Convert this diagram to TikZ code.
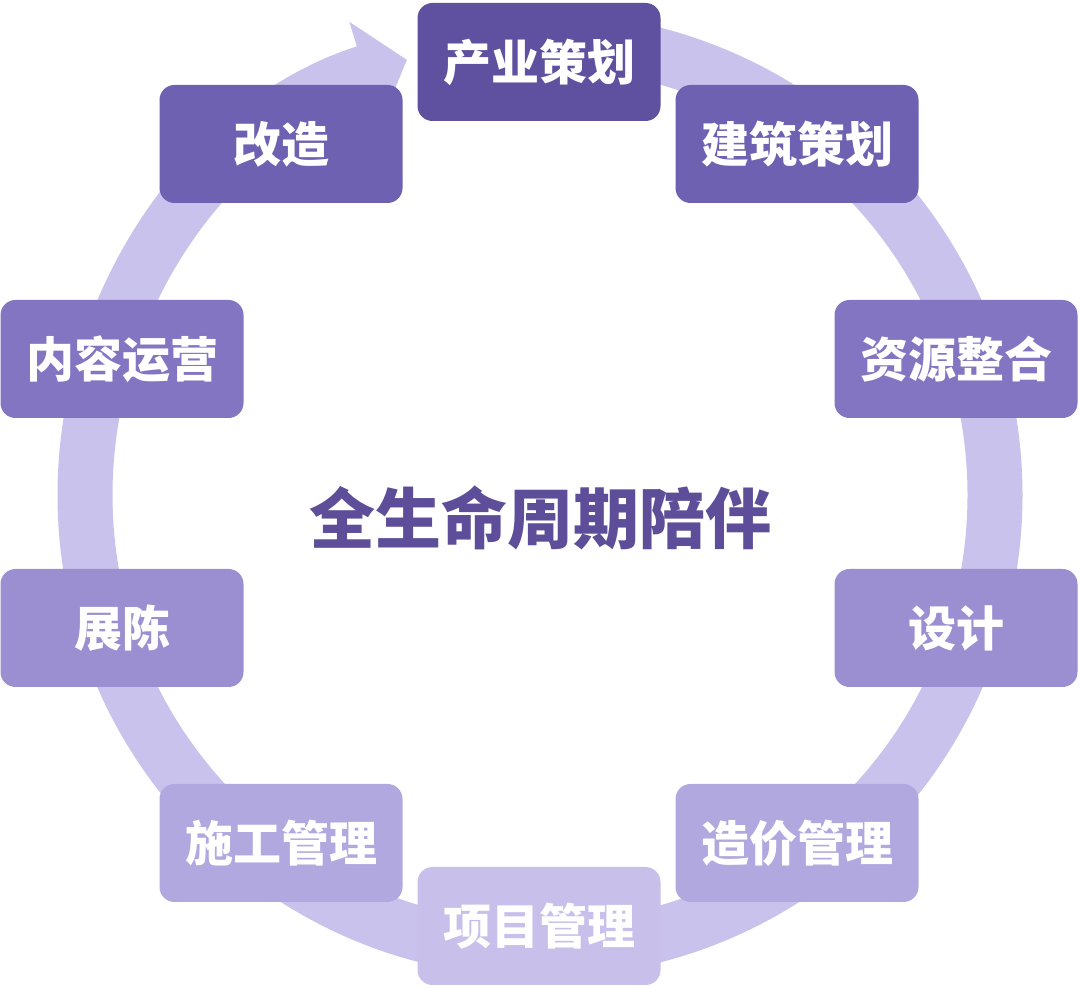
\documentclass[tikz,border=0pt]{standalone}
\usepackage{fontspec}
\usepackage{tikz}
\usepackage{xcolor}
\usetikzlibrary{arrows.meta}
\newfontfamily\cjk{Noto Sans CJK SC}
\definecolor{cRing}   {HTML}{C9C2EC}
\definecolor{cTitle}  {HTML}{5E4E9A}
\definecolor{cStageA} {HTML}{5F50A0}
\definecolor{cStageB} {HTML}{6E61B2}
\definecolor{cStageC} {HTML}{8475C2}
\definecolor{cStageD} {HTML}{9B8FD2}
\definecolor{cStageE} {HTML}{B1A8E0}
\definecolor{cStageF} {HTML}{C8C0EA}

\begin{document}
\begin{tikzpicture}[x=0.5pt, y=0.5pt,
    stage/.style={rounded corners=7.5pt, minimum width=121.5pt, minimum height=59pt,
                  inner sep=0pt, text=white, font=\cjk\bfseries\fontsize{24}{28}\selectfont}]
  \useasboundingbox[fill=white] (0,0) rectangle (1080,989);
  % life-cycle ring
  \coordinate (hub) at (540,494);
  \draw[cRing, line width=27.5pt, -{Triangle[length=22pt, width=52pt]}]
       (hub) ++(90:455) arc[start angle=90, end angle=-253, radius=455];
  % stages, clockwise from the top
  \node[stage, fill=cStageA] (industry) at (539,927) {产业策划};
  \node[stage, fill=cStageB] (archplan) at (797,845) {建筑策划};
  \node[stage, fill=cStageC] (resource) at (956,630) {资源整合};
  \node[stage, fill=cStageD] (design)   at (956,361) {设计};
  \node[stage, fill=cStageE] (costmgmt) at (797,146) {造价管理};
  \node[stage, fill=cStageF] (projmgmt) at (539,63)  {项目管理};
  \node[stage, fill=cStageE] (buildmgmt) at (281,146) {施工管理};
  \node[stage, fill=cStageD] (exhibit)  at (122,361) {展陈};
  \node[stage, fill=cStageC] (content)  at (122,630) {内容运营};
  \node[stage, fill=cStageB] (renovate) at (281,845) {改造};
  % centre title
  \node[text=cTitle, font=\cjk\bfseries\fontsize{33}{38}\selectfont] (title) at (540,471)
       {全生命周期陪伴};
\end{tikzpicture}
\end{document}
